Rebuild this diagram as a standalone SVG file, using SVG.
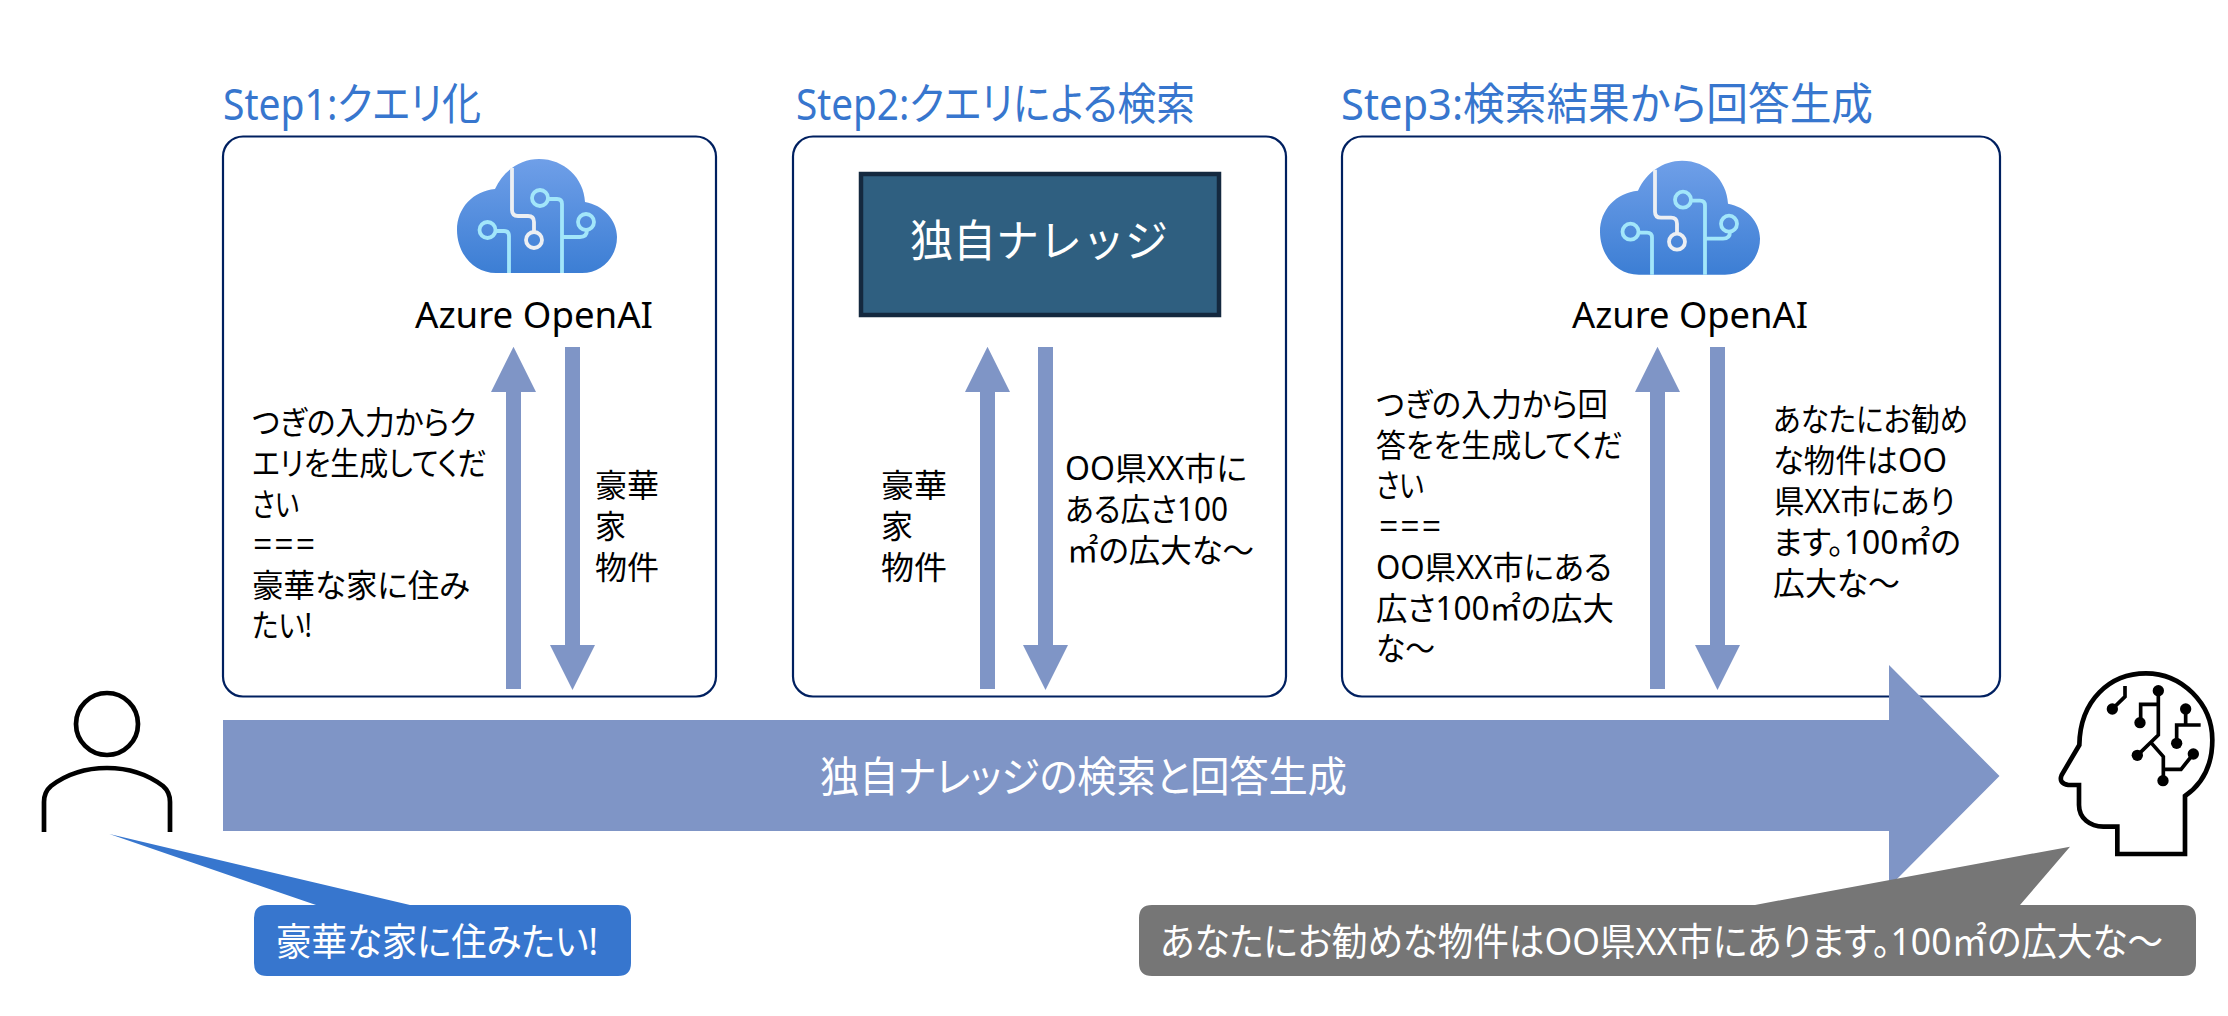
<svg xmlns="http://www.w3.org/2000/svg" xmlns:xlink="http://www.w3.org/1999/xlink" width="2228" height="1016" viewBox="0 0 2228 1016">
<style>
text{font-family:"Noto Sans","Noto Sans CJK JP",sans-serif;font-feature-settings:"palt";}
.fw{font-feature-settings:normal;}
.title{font-size:44px;fill:#3776CE;}
.body{font-size:32px;fill:#000;}
.az{font-size:37px;fill:#000;}
.wh{fill:#fff;}
.panel{fill:#fff;stroke:#002060;stroke-width:2.2;}
.flow{fill:#7F95C6;}
.ln{fill:none;stroke:#000;stroke-width:4.7;}
.cy{fill:none;stroke:#A2E6FA;stroke-width:3.8;}
.wl{fill:none;stroke:#ECEFF3;stroke-width:3.8;}
</style>
<defs>
<linearGradient id="cg" x1="0" y1="0" x2="0" y2="1"><stop offset="0" stop-color="#6F9FE8"/><stop offset="1" stop-color="#3C7ED4"/></linearGradient>
<polygon id="up" points="0,346.7 22.5,392 7.5,392 7.5,689 -7.5,689 -7.5,392 -22.5,392"/>
<polygon id="down" points="-7.5,347 7.5,347 7.5,645 22.5,645 0,690 -22.5,645 -7.5,645"/>
<g id="cloud">
<path fill="url(#cg)" d="M496 273C473 273 457 253 457 230C457 208 473 191 495 189C503 171 520 159 539 159C564 159 584 178 585 202C603 205 617 220 617 237C617 257 602 273 582 273Z"/>
<path class="wl" d="M512 168V210Q512 216 518 216H528Q534 216 534 222V232"/>
<circle class="wl" cx="534" cy="240" r="8"/>
<circle class="cy" cx="487.5" cy="230" r="8"/>
<path class="cy" d="M495.5 231H504Q509 231 509 236V273"/>
<circle class="cy" cx="540" cy="198" r="8"/>
<path class="cy" d="M548 199H557Q562 199 562 204V273"/>
<path class="cy" d="M562 237H580Q587 237 587 230"/>
<circle class="cy" cx="586" cy="222" r="8"/>
</g>
</defs>
<g id="step1">
<text class="title" x="223" y="120" textLength="258" lengthAdjust="spacingAndGlyphs">Step1:クエリ化</text>
<rect class="panel" x="223" y="136.5" width="493" height="560" rx="20"/>
<use xlink:href="#cloud" href="#cloud"/>
<text class="az" x="415" y="328" textLength="238" lengthAdjust="spacingAndGlyphs">Azure OpenAI</text>
<text class="body" x="252" y="434" textLength="224" lengthAdjust="spacingAndGlyphs">つぎの入力からク</text>
<text class="body" x="252" y="475" textLength="235" lengthAdjust="spacingAndGlyphs">エリを生成してくだ</text>
<text class="body" x="252" y="516" textLength="47" lengthAdjust="spacingAndGlyphs">さい</text>
<text class="body" x="252" y="556" textLength="64" lengthAdjust="spacingAndGlyphs">＝＝＝</text>
<text class="body" x="252" y="597" textLength="218" lengthAdjust="spacingAndGlyphs">豪華な家に住み</text>
<text class="body" x="252" y="637" textLength="60" lengthAdjust="spacingAndGlyphs">たい!</text>
<text class="body" x="595" y="497" textLength="64" lengthAdjust="spacingAndGlyphs">豪華</text>
<text class="body" x="595" y="538" textLength="31" lengthAdjust="spacingAndGlyphs">家</text>
<text class="body" x="595" y="579" textLength="64" lengthAdjust="spacingAndGlyphs">物件</text>
</g>
<g id="step2">
<text class="title" x="796" y="120" textLength="399" lengthAdjust="spacingAndGlyphs">Step2:クエリによる検索</text>
<rect class="panel" x="793" y="136.5" width="493" height="560" rx="20"/>
<text class="body" x="881" y="497" textLength="66" lengthAdjust="spacingAndGlyphs">豪華</text>
<text class="body" x="881" y="538" textLength="32" lengthAdjust="spacingAndGlyphs">家</text>
<text class="body" x="881" y="579" textLength="66" lengthAdjust="spacingAndGlyphs">物件</text>
<text class="body" x="1065" y="480" textLength="182" lengthAdjust="spacingAndGlyphs">OO県XX市に</text>
<text class="body" x="1065" y="521" textLength="163" lengthAdjust="spacingAndGlyphs">ある広さ100</text>
<text class="body" x="1067" y="562" textLength="187" lengthAdjust="spacingAndGlyphs">㎡の広大な～</text>
</g>
<g id="knowledge">
<rect x="861" y="174" width="358" height="141" fill="#2F5F80" stroke="#14293F" stroke-width="4.5"/>
<text class="wh fw" x="910" y="257" font-size="44" textLength="258" lengthAdjust="spacingAndGlyphs">独自ナレッジ</text>
</g>
<g id="step3">
<text class="title" x="1341" y="120" textLength="532" lengthAdjust="spacingAndGlyphs">Step3:検索結果から回答生成</text>
<rect class="panel" x="1342" y="136.5" width="658" height="560" rx="20"/>
<use xlink:href="#cloud" href="#cloud" transform="translate(1143 1.7)"/>
<text class="az" x="1572" y="328" textLength="236" lengthAdjust="spacingAndGlyphs">Azure OpenAI</text>
<text class="body" x="1376" y="416" textLength="232" lengthAdjust="spacingAndGlyphs">つぎの入力から回</text>
<text class="body" x="1376" y="457" textLength="247" lengthAdjust="spacingAndGlyphs">答をを生成してくだ</text>
<text class="body" x="1376" y="497" textLength="48" lengthAdjust="spacingAndGlyphs">さい</text>
<text class="body" x="1378" y="538" textLength="64" lengthAdjust="spacingAndGlyphs">＝＝＝</text>
<text class="body" x="1376" y="579" textLength="236" lengthAdjust="spacingAndGlyphs">OO県XX市にある</text>
<text class="body" x="1376" y="620" textLength="238" lengthAdjust="spacingAndGlyphs">広さ100㎡の広大</text>
<text class="body" x="1376" y="660" textLength="59" lengthAdjust="spacingAndGlyphs">な～</text>
<text class="body" x="1773" y="431" textLength="195" lengthAdjust="spacingAndGlyphs">あなたにお勧め</text>
<text class="body" x="1773" y="472" textLength="174" lengthAdjust="spacingAndGlyphs">な物件はOO</text>
<text class="body" x="1774" y="513" textLength="181" lengthAdjust="spacingAndGlyphs">県XX市にあり</text>
<text class="body" x="1773" y="554" textLength="188" lengthAdjust="spacingAndGlyphs">ます。100㎡の</text>
<text class="body" x="1773" y="595" textLength="127" lengthAdjust="spacingAndGlyphs">広大な～</text>
</g>
<g id="connectors" class="flow">
<use xlink:href="#up" href="#up" x="513.5"/>
<use xlink:href="#down" href="#down" x="572.5"/>
<use xlink:href="#up" href="#up" x="987.5"/>
<use xlink:href="#down" href="#down" x="1045.5"/>
<use xlink:href="#up" href="#up" x="1657.5"/>
<use xlink:href="#down" href="#down" x="1717.5"/>
</g>
<g id="process-arrow">
<polygon class="flow" points="223,720 1889,720 1889,665 1999.5,776 1889,887 1889,831 223,831"/>
<text class="wh" x="820" y="792" font-size="42" textLength="527" lengthAdjust="spacingAndGlyphs">独自ナレッジの検索と回答生成</text>
</g>
<g id="user">
<ellipse class="ln" cx="107" cy="724" rx="31" ry="31"/>
<path class="ln" d="M44 832V802Q44 792 51 786C68 773 86 768 107 768C128 768 146 773 163 786Q170 792 170 802V832"/>
</g>
<g id="user-callout">
<path fill="#3776CE" d="M109.4 834L316 905H267Q254 905 254 918V963Q254 976 267 976H618Q631 976 631 963V918Q631 905 618 905H410Z"/>
<text class="wh" x="276" y="955" font-size="38" textLength="322" lengthAdjust="spacingAndGlyphs">豪華な家に住みたい!</text>
</g>
<g id="ai-head">
<g transform="translate(1880 650) scale(.33333)">
<path fill="none" stroke="#000" stroke-width="14" d="M712 612H915V438C970 400 997 340 997 270C997 160 905 70 798 70C690 70 600 150 598 285L545 375Q535 400 565 405H597V465C597 505 630 530 670 530H712Z"/>
<path fill="none" stroke="#000" stroke-width="11" d="M735 108V140L697 177M835 122V255L772 316M835 163H782V218M815 280L850 320V392M850 358H903L940 312M917 177V225M962 225H890V280"/>
<g fill="#000"><circle cx="697" cy="177" r="17"/><circle cx="835" cy="122" r="17"/><circle cx="780" cy="218" r="17"/><circle cx="772" cy="316" r="17"/><circle cx="849" cy="392" r="17"/><circle cx="940" cy="312" r="17"/><circle cx="917" cy="177" r="17"/><circle cx="890" cy="280" r="17"/></g>
</g>
</g>
<g id="ai-callout">
<path fill="#767676" d="M2070 846.7L2020 905H2183Q2196 905 2196 918V963Q2196 976 2183 976H1152Q1139 976 1139 963V918Q1139 905 1152 905H1755Z"/>
<text class="wh" x="1160" y="955" font-size="38" textLength="1003" lengthAdjust="spacingAndGlyphs">あなたにお勧めな物件はOO県XX市にあります。100㎡の広大な～</text>
</g>
</svg>
